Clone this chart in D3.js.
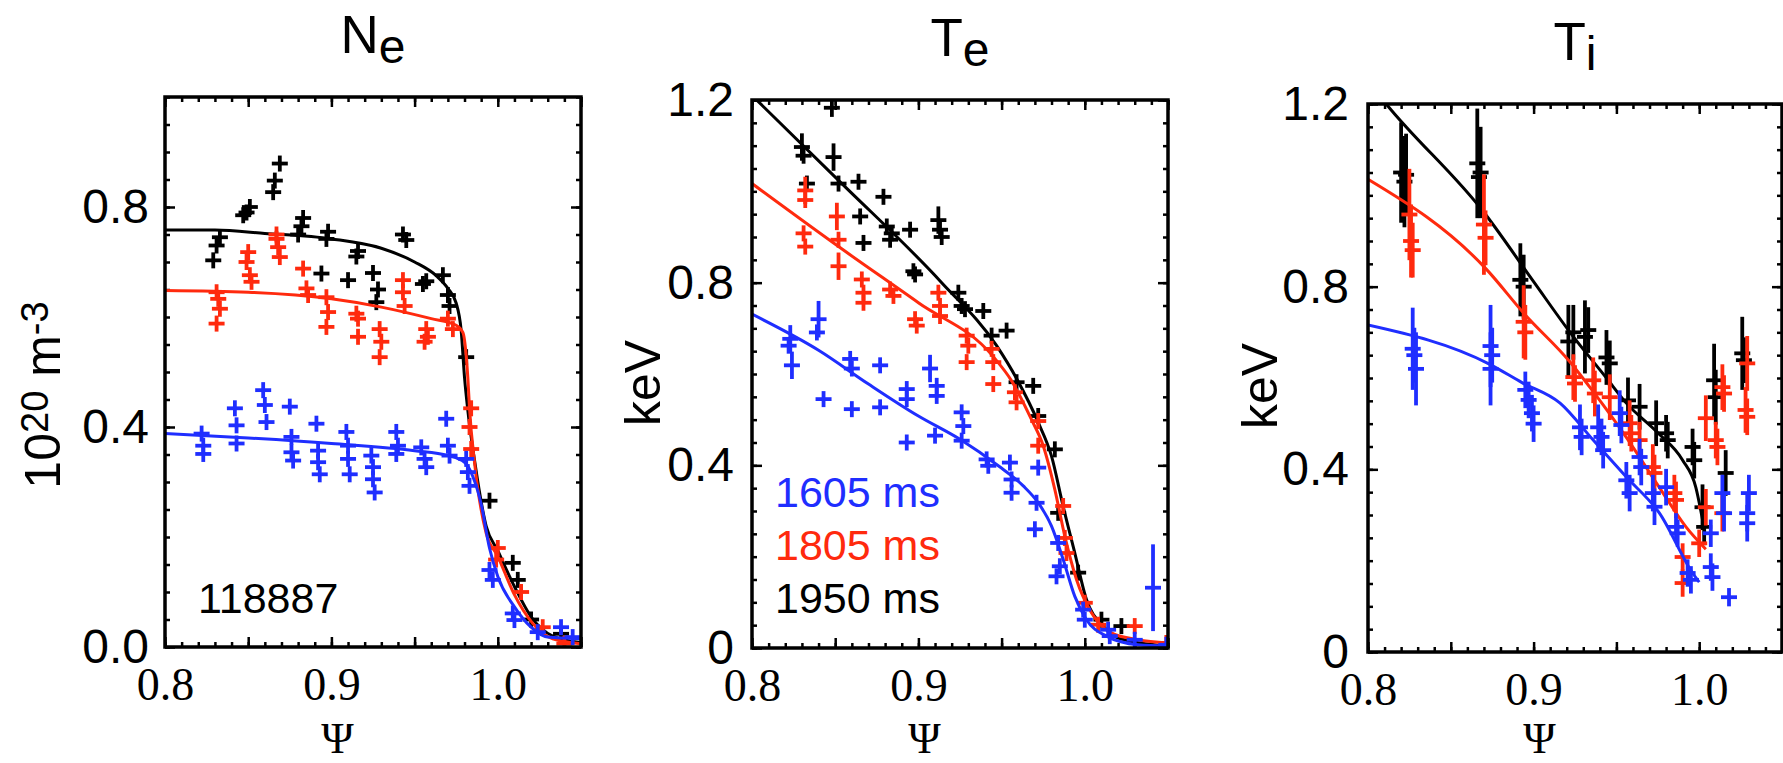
<!DOCTYPE html>
<html>
<head>
<meta charset="utf-8">
<title>Ne Te Ti profiles</title>
<style>
  body { margin: 0; background: #fff; }
  svg { display: block; }
</style>
</head>
<body>
<svg id="chart" width="1783" height="763"></svg>
<script src="https://d3js.org/d3.v7.min.js"></script>
<script>

// ---- data: [psi, value, vertical error (0 = plain cross)] ----
var times = ['1605 ms', '1805 ms', '1950 ms'];
var shot = '118887';

var psiTicks = [0.8, 0.9, 1.0];
var neTicks = [0.0, 0.4, 0.8];
var neTickLabels = ['0.0', '0.4', '0.8'];
var tTicks = [0, 0.4, 0.8, 1.2];
var tTickLabels = ['0', '0.4', '0.8', '1.2'];

var neBlue = [[0.822,0.388],[0.823,0.366],[0.823,0.351],[0.842,0.434],[0.843,0.403],[0.843,0.37],
  [0.859,0.467],[0.860,0.44],[0.861,0.409],[0.875,0.437],[0.876,0.382],[0.876,0.354],[0.877,0.339],
  [0.891,0.406],[0.892,0.357],[0.892,0.336],[0.893,0.314],[0.909,0.391],[0.910,0.366],[0.910,0.342],
  [0.911,0.314],[0.924,0.348],[0.925,0.327],[0.925,0.305],[0.926,0.281],[0.939,0.391],[0.940,0.366],
  [0.939,0.351],[0.954,0.363],[0.956,0.342],[0.957,0.327],[0.969,0.415],[0.970,0.366],[0.971,0.348],
  [0.981,0.342],[0.982,0.318],[0.983,0.293],[0.995,0.14],[0.997,0.122],[1.009,0.061],[1.010,0.049],
  [1.024,0.027],[1.038,0.036],[1.045,0.018]];
var neRed = [[0.831,0.645],[0.832,0.633],[0.833,0.615],[0.831,0.588],[0.850,0.718],[0.849,0.70],
  [0.851,0.676],[0.852,0.664],[0.867,0.750],[0.867,0.742],[0.868,0.727],[0.869,0.709],[0.883,0.688],
  [0.885,0.652],[0.886,0.64],[0.897,0.636],[0.898,0.609],[0.897,0.582],[0.915,0.606],[0.916,0.597],
  [0.916,0.564],[0.929,0.578],[0.930,0.555],[0.929,0.527],[0.943,0.667],[0.943,0.645],[0.944,0.62],
  [0.957,0.578],[0.958,0.564],[0.956,0.555],[0.970,0.597],[0.973,0.578],[0.984,0.434],[0.983,0.40],
  [0.984,0.36],[1.0,0.18],[0.999,0.159],[1.014,0.10],[1.027,0.036],[1.04,0.006]];
var neBlack = [[0.829,0.703],[0.831,0.730],[0.833,0.745],[0.849,0.79],[0.851,0.80],[0.847,0.785],
  [0.865,0.827],[0.866,0.848],[0.869,0.879],[0.880,0.75],[0.882,0.765],[0.883,0.78],[0.897,0.742],
  [0.898,0.755],[0.894,0.679],[0.910,0.667],[0.915,0.71],[0.916,0.72],[0.925,0.68],[0.928,0.65],
  [0.927,0.627],[0.943,0.75],[0.945,0.74],[0.955,0.66],[0.957,0.665],[0.967,0.676],[0.970,0.64],
  [0.971,0.62],[0.981,0.527],[0.995,0.266],[1.009,0.153],[1.012,0.122],[1.02,0.05],[1.038,0.024]];

var neBlueFit = [[0.8,0.388],[0.85,0.38],[0.9,0.37],[0.95,0.357],[0.97,0.348],[0.98,0.336],[0.985,0.31],
  [0.99,0.26],[0.995,0.18],[1.0,0.128],[1.01,0.073],[1.02,0.036],[1.03,0.018],[1.05,0.015]];
var neRedFit = [[0.8,0.648],[0.85,0.645],[0.9,0.633],[0.93,0.618],[0.96,0.597],[0.975,0.585],
  [0.979,0.572],[0.981,0.53],[0.982,0.489],[0.983,0.434],[0.986,0.336],[0.993,0.207],[1.0,0.165],
  [1.0095,0.098],[1.021,0.043],[1.033,0.015],[1.05,0.006]];
var neBlackFit = [[0.8,0.758],[0.83,0.758],[0.86,0.752],[0.9,0.742],[0.93,0.725],[0.95,0.70],
  [0.963,0.675],[0.970,0.652],[0.975,0.625],[0.978,0.575],[0.980,0.49],[0.982,0.43],[0.986,0.34],
  [0.993,0.22],[1.0,0.175],[1.01,0.11],[1.02,0.055],[1.033,0.02],[1.05,0.008]];

var teBlue = [[0.823,0.677,0.03],[0.822,0.662,0],[0.824,0.619,0.03],[0.840,0.72,0.04],[0.839,0.691,0],
  [0.859,0.633,0],[0.860,0.612,0],[0.877,0.619,0],[0.907,0.612,0.03],[0.843,0.545,0],[0.860,0.523,0],
  [0.877,0.527,0],[0.893,0.567,0],[0.893,0.545,0],[0.911,0.574,0],[0.911,0.552,0],[0.893,0.45,0],
  [0.91,0.465,0],[0.926,0.516,0],[0.927,0.486,0],[0.926,0.454,0],[0.941,0.413,0],[0.942,0.399,0],
  [0.955,0.406,0],[0.956,0.369,0],[0.956,0.34,0],[0.972,0.395,0],[0.971,0.318,0],[0.970,0.26,0],
  [0.984,0.23,0],[0.985,0.179,0],[0.983,0.157,0],[0.999,0.084,0],[1.0,0.062,0],[1.014,0.04,0],
  [1.015,0.026,0],[1.03,0.018,0],[1.041,0.132,0.095],[1.049,0.007,0]];
var teRed = [[0.832,1.002,0.03],[0.832,0.981,0],[0.831,0.908,0],[0.832,0.879,0],[0.851,0.945,0.03],
  [0.852,0.894,0],[0.852,0.836,0.03],[0.866,0.807,0],[0.867,0.778,0],[0.867,0.756,0],[0.883,0.785,0],
  [0.885,0.771,0],[0.898,0.72,0],[0.899,0.706,0],[0.912,0.778,0],[0.913,0.749,0],[0.913,0.727,0],
  [0.929,0.684,0],[0.930,0.662,0],[0.929,0.626,0],[0.944,0.655,0],[0.945,0.626,0],[0.945,0.578,0],
  [0.958,0.56,0],[0.959,0.538,0],[0.972,0.497,0],[0.972,0.443,0],[0.987,0.311,0],[0.988,0.241,0],
  [0.989,0.208,0],[1.0,0.099,0],[1.008,0.051,0],[1.03,0.048,0],[1.049,0.011,0]];
var teBlack = [[0.830,1.097,0.03],[0.831,1.078,0],[0.833,1.017,0],[0.849,1.075,0.03],[0.848,1.183,0.02],
  [0.852,1.017,0],[0.864,1.021,0],[0.865,0.945,0],[0.867,0.887,0],[0.879,0.988,0],[0.881,0.923,0],
  [0.883,0.894,0],[0.884,0.908,0],[0.895,0.916,0],[0.912,0.937,0.03],[0.913,0.916,0],[0.914,0.90,0],
  [0.897,0.825,0],[0.898,0.818,0],[0.924,0.778,0],[0.926,0.749,0],[0.928,0.742,0],[0.939,0.738,0],
  [0.944,0.684,0],[0.953,0.695,0],[0.959,0.582,0],[0.969,0.574,0],[0.972,0.508,0],[0.982,0.435,0],
  [0.984,0.296,0],[0.996,0.165,0],[1.01,0.062,0],[1.022,0.048,0]];

var teBlueFit = [[0.8,0.731],[0.84,0.652],[0.87,0.578],[0.9,0.508],[0.925,0.457],[0.948,0.399],
  [0.963,0.355],[0.972,0.318],[0.98,0.267],[0.987,0.194],[0.994,0.113],[1.001,0.062],[1.013,0.026],
  [1.032,0.007],[1.05,0.004]];
var teRedFit = [[0.8,1.017],[0.852,0.879],[0.9,0.756],[0.945,0.638],[0.956,0.585],[0.968,0.5],
  [0.975,0.443],[0.982,0.347],[0.988,0.245],[0.995,0.15],[1.004,0.077],[1.016,0.033],[1.032,0.018],
  [1.05,0.011]];
var teBlackFit = [[0.8,1.21],[0.852,1.024],[0.914,0.8],[0.947,0.662],[0.959,0.59],[0.972,0.494],
  [0.98,0.42],[0.987,0.31],[0.994,0.208],[1.001,0.106],[1.011,0.048],[1.02,0.022],[1.05,0.004]];

var tiBlue = [[0.827,0.664,0.09],[0.828,0.65,0.06],[0.829,0.62,0.08],[0.874,0.67,0.09],[0.875,0.65,0.06],
  [0.874,0.62,0.08],[0.895,0.574,0.04],[0.897,0.552,0.04],[0.899,0.523,0.04],[0.900,0.50,0.04],
  [0.928,0.492,0.05],[0.929,0.471,0.04],[0.939,0.492,0.05],[0.941,0.471,0.04],[0.942,0.442,0.04],
  [0.952,0.523,0.05],[0.953,0.497,0.04],[0.956,0.376,0.04],[0.958,0.348,0.04],[0.964,0.427,0.04],
  [0.965,0.405,0.04],[0.972,0.348,0.04],[0.973,0.318,0.04],[0.98,0.361,0.04],[0.986,0.274,0.03],
  [0.987,0.26,0.03],[0.993,0.173,0.03],[0.995,0.158,0.03],[1.007,0.186,0.03],[1.008,0.164,0.03],
  [1.007,0.26,0.03],[1.014,0.348,0.04],[1.015,0.304,0.04],[1.018,0.12,0.02],[1.030,0.348,0.04],
  [1.029,0.304,0.04],[1.029,0.282,0.04]];
var tiRed = [[0.825,0.958,0.10],[0.826,0.90,0.08],[0.827,0.88,0.06],[0.870,0.936,0.11],[0.871,0.907,0.06],
  [0.894,0.723,0.08],[0.895,0.70,0.06],[0.924,0.602,0.05],[0.925,0.588,0.04],[0.936,0.595,0.05],
  [0.937,0.566,0.05],[0.946,0.558,0.05],[0.958,0.501,0.05],[0.959,0.479,0.04],[0.964,0.464,0.04],
  [0.972,0.405,0.05],[0.973,0.392,0.04],[0.985,0.348,0.04],[0.986,0.333,0.04],[0.99,0.208,0.03],
  [0.99,0.151,0.03],[1.0,0.238,0.03],[1.004,0.317,0.04],[1.004,0.512,0.05],[1.01,0.464,0.04],
  [1.011,0.449,0.04],[1.014,0.58,0.05],[1.015,0.566,0.04],[1.014,0.304,0.04],[1.029,0.632,0.06],
  [1.028,0.53,0.05],[1.029,0.515,0.04]];
var tiBlack = [[0.820,1.05,0.11],[0.822,1.03,0.10],[0.823,1.045,0.09],[0.866,1.07,0.12],[0.868,1.05,0.10],
  [0.867,1.04,0.08],[0.892,0.815,0.08],[0.894,0.80,0.07],[0.921,0.68,0.08],[0.924,0.70,0.06],
  [0.931,0.69,0.08],[0.933,0.705,0.05],[0.944,0.645,0.06],[0.946,0.632,0.05],[0.957,0.551,0.05],
  [0.964,0.537,0.05],[0.974,0.501,0.05],[0.98,0.479,0.04],[0.981,0.464,0.04],[0.996,0.449,0.04],
  [0.997,0.42,0.04],[1.002,0.317,0.05],[1.003,0.274,0.04],[1.009,0.595,0.08],[1.010,0.558,0.06],
  [1.016,0.392,0.05],[1.026,0.654,0.08],[1.027,0.639,0.05]];

var tiBlueFit = [[0.8,0.716],[0.873,0.631],[0.893,0.59],[0.916,0.545],[0.936,0.464],[0.956,0.383],
  [0.976,0.304],[0.996,0.173],[1.0,0.153]];
var tiRedFit = [[0.8,1.035],[0.871,0.84],[0.895,0.738],[0.922,0.635],[0.936,0.57],[0.956,0.47],
  [0.976,0.36],[0.992,0.274],[1.004,0.225]];
var tiBlackFit = [[0.8,1.25],[0.811,1.2],[0.871,0.958],[0.9,0.811],[0.922,0.70],[0.944,0.60],
  [0.956,0.545],[0.975,0.48],[0.99,0.42],[0.998,0.36],[1.002,0.29]];

// ---- layout ----
var blue = '#1f2eff', red = '#ff2a0e', black = '#000';
var sans = '"Liberation Sans", Arial, Helvetica, sans-serif';
var serif = '"Liberation Serif", "Times New Roman", serif';

var panels = [
  { title: 'N', sub: 'e', left: 165, top: 97, width: 416, height: 550, yMax: 1.0, titleY: 53,
    ticks: neTicks, labels: neTickLabels, pad: 16,
    series: [[neBlack, neBlackFit, black], [neRed, neRedFit, red], [neBlue, neBlueFit, blue]] },
  { title: 'T', sub: 'e', left: 752, top: 100, width: 416, height: 548, yMax: 1.2, titleY: 56,
    ticks: tTicks, labels: tTickLabels, pad: 18,
    series: [[teBlack, teBlackFit, black], [teRed, teRedFit, red], [teBlue, teBlueFit, blue]] },
  { title: 'T', sub: 'i', left: 1368, top: 104, width: 414, height: 548, yMax: 1.2, titleY: 60,
    ticks: tTicks, labels: tTickLabels, pad: 19,
    series: [[tiBlack, tiBlackFit, black], [tiRed, tiRedFit, red], [tiBlue, tiBlueFit, blue]] }
];

var svg = d3.select('#chart');
svg.append('rect').attr('width', 1783).attr('height', 763).attr('fill', '#fff');

function styleText(sel, family, size) {
  sel.attr('font-family', family).attr('font-size', size);
  sel.selectAll('text').attr('fill', '#000');
}

panels.forEach(function(p, i) {
  var w = p.width, h = p.height;
  var x = d3.scaleLinear().domain([0.8, 1.05]).range([0, w]);
  var y = d3.scaleLinear().domain([0, p.yMax]).range([h, 0]);
  var g = svg.append('g').attr('transform', 'translate(' + p.left + ',' + p.top + ')');

  var clipId = 'clip' + i;
  g.append('clipPath').attr('id', clipId)
    .append('rect').attr('width', w).attr('height', h);

  // ticks on all four sides, pointing inward
  var xMajor = d3.range(0, 6).map(function(k) { return 0.8 + k * 0.05; });
  var xMinor = d3.range(0, 26).map(function(k) { return 0.8 + k * 0.01; });
  var yMinor = d3.range(0, Math.round(p.yMax / 0.05) + 1).map(function(k) { return k * 0.05; });

  function tickAxis(axis, vals, size, tr) {
    var a = g.append('g').attr('transform', tr)
      .call(axis.tickValues(vals).tickSize(-size).tickFormat(''));
    a.select('.domain').remove();
    a.selectAll('line').attr('stroke', '#000').attr('stroke-width', 2.5);
  }
  tickAxis(d3.axisBottom(x), xMinor, 5, 'translate(0,' + h + ')');
  tickAxis(d3.axisBottom(x), xMajor, 10, 'translate(0,' + h + ')');
  tickAxis(d3.axisTop(x), xMinor, 5, 'translate(0,0)');
  tickAxis(d3.axisTop(x), xMajor, 10, 'translate(0,0)');
  tickAxis(d3.axisLeft(y), yMinor, 5, 'translate(0,0)');
  tickAxis(d3.axisLeft(y), p.ticks, 10, 'translate(0,0)');
  tickAxis(d3.axisRight(y), yMinor, 5, 'translate(' + w + ',0)');
  tickAxis(d3.axisRight(y), p.ticks, 10, 'translate(' + w + ',0)');

  // tick labels
  var xl = g.append('g').attr('transform', 'translate(0,' + h + ')')
    .call(d3.axisBottom(x).tickValues(psiTicks).tickSize(0).tickPadding(20).tickFormat(d3.format('.1f')));
  xl.select('.domain').remove();
  styleText(xl, serif, 46);

  var yl = g.append('g')
    .call(d3.axisLeft(y).tickValues(p.ticks).tickSize(0).tickPadding(p.pad)
      .tickFormat(function(d, k) { return p.labels[k]; }));
  yl.select('.domain').remove();
  styleText(yl, sans, 48);

  // data: crosses with error bars, then fitted profile
  var line = d3.line()
    .x(function(d) { return x(d[0]); })
    .y(function(d) { return y(d[1]); })
    .curve(d3.curveMonotoneX);
  var plot = g.append('g').attr('clip-path', 'url(#' + clipId + ')');

  p.series.forEach(function(s) {
    var pts = s[0], fit = s[1], col = s[2];
    var pg = plot.append('g').attr('stroke', col).attr('stroke-width', 3.8);
    var cross = pg.selectAll('g').data(pts).join('g');
    cross.append('line')
      .attr('x1', function(d) { return x(d[0]) - 8; })
      .attr('x2', function(d) { return x(d[0]) + 8; })
      .attr('y1', function(d) { return y(d[1]); })
      .attr('y2', function(d) { return y(d[1]); });
    cross.append('line')
      .attr('x1', function(d) { return x(d[0]); })
      .attr('x2', function(d) { return x(d[0]); })
      .attr('y1', function(d) { return y(d[1]) - Math.max(8, y(0) - y(d[2] || 0)); })
      .attr('y2', function(d) { return y(d[1]) + Math.max(8, y(0) - y(d[2] || 0)); });
    plot.append('path').datum(fit)
      .attr('d', line)
      .attr('fill', 'none')
      .attr('stroke', col)
      .attr('stroke-width', 3);
  });

  // frame
  g.append('rect').attr('width', w).attr('height', h)
    .attr('fill', 'none').attr('stroke', '#000').attr('stroke-width', 3.5);

  // title
  var t = svg.append('text')
    .attr('x', p.left + w / 2)
    .attr('y', p.titleY)
    .attr('text-anchor', 'middle')
    .attr('font-family', sans)
    .attr('font-size', 53);
  t.append('tspan').text(p.title);
  t.append('tspan').attr('dy', 10).attr('font-size', 48).text(p.sub);

  // psi label
  svg.append('text')
    .attr('x', p.left + x(0.9) + 6)
    .attr('y', 753)
    .attr('text-anchor', 'middle')
    .attr('font-family', serif)
    .attr('font-size', 44)
    .text('\u03A8');
});

// y axis titles
var yt = svg.append('text')
  .attr('transform', 'translate(60,395) rotate(-90)')
  .attr('text-anchor', 'middle')
  .attr('font-family', sans)
  .attr('font-size', 50);
yt.append('tspan').text('10');
yt.append('tspan').attr('dy', -12).attr('font-size', 38).text('20');
yt.append('tspan').attr('dy', 12).text(' m');
yt.append('tspan').attr('dy', -12).attr('font-size', 38).text('-3');

svg.append('text')
  .attr('transform', 'translate(660,383) rotate(-90)')
  .attr('text-anchor', 'middle')
  .attr('font-family', sans)
  .attr('font-size', 50)
  .text('keV');
svg.append('text')
  .attr('transform', 'translate(1277,386) rotate(-90)')
  .attr('text-anchor', 'middle')
  .attr('font-family', sans)
  .attr('font-size', 50)
  .text('keV');

// shot number and time legend
svg.append('text')
  .attr('x', 198).attr('y', 613)
  .attr('font-family', sans).attr('font-size', 43)
  .text(shot);

var legendColors = [blue, red, black];
svg.selectAll('text.legend').data(times).join('text')
  .attr('class', 'legend')
  .attr('x', 775)
  .attr('y', function(d, k) { return 507 + k * 53; })
  .attr('font-family', sans)
  .attr('font-size', 43)
  .attr('fill', function(d, k) { return legendColors[k]; })
  .text(function(d) { return d; });

</script>
</body>
</html>
